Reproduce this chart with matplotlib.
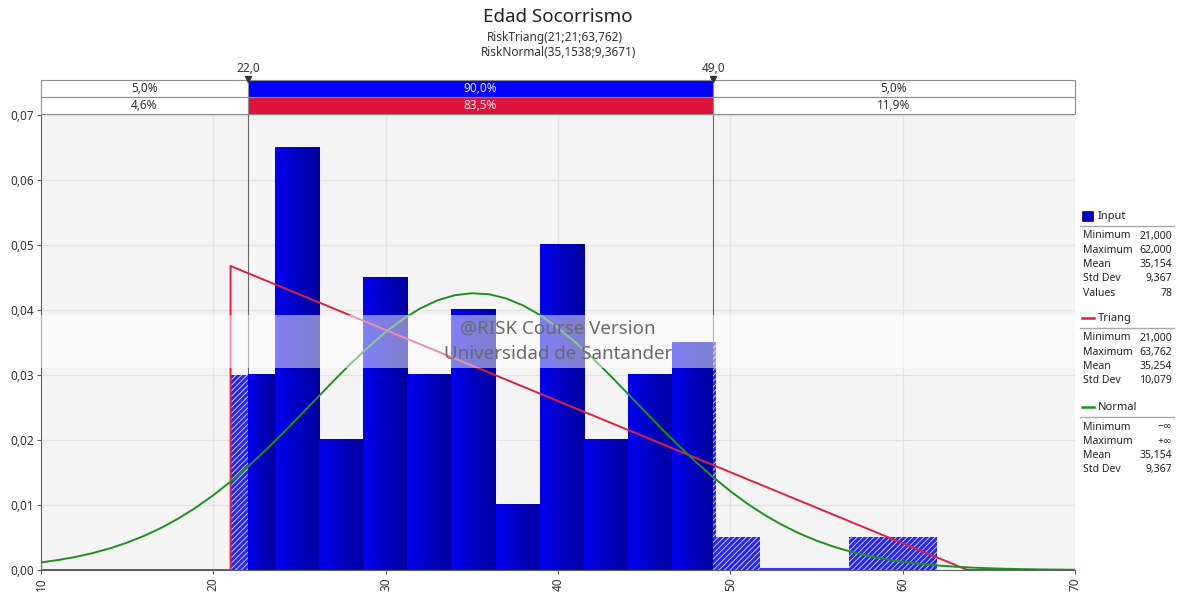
import numpy as np
import matplotlib.pyplot as plt
from matplotlib.colors import LinearSegmentedColormap
from matplotlib.patches import Rectangle
from matplotlib.lines import Line2D

plt.rcParams['font.family'] = ['Noto Sans', 'DejaVu Sans']
plt.rcParams['hatch.linewidth'] = 0.7

# Input histogram: 78 values, 16 bins between 21 and 62
bin_lo = 21.0
bin_hi = 62.0
counts = [6, 13, 4, 9, 6, 8, 2, 10, 4, 6, 7, 1, 0, 0, 1, 1]
n_values = 78

# Fitted triangular distribution (vertices of the pdf)
tri_x = [10, 21, 21, 63.762, 70]
tri_y = [0, 0, 0.04677, 0, 0]

# Fitted normal distribution
norm_x = list(range(10, 71))
norm_y = [0.00116, 0.00154, 0.00201, 0.00260, 0.00333, 0.00422, 0.00527,
          0.00651, 0.00797, 0.00963, 0.01151, 0.01360, 0.01589, 0.01835,
          0.02096, 0.02367, 0.02642, 0.02916, 0.03182, 0.03432, 0.03661,
          0.03860, 0.04024, 0.04148, 0.04227, 0.04258, 0.04242, 0.04177,
          0.04067, 0.03915, 0.03726, 0.03505, 0.03261, 0.02999, 0.02727,
          0.02451, 0.02179, 0.01914, 0.01663, 0.01429, 0.01213, 0.01018,
          0.00845, 0.00694, 0.00563, 0.00452, 0.00358, 0.00281, 0.00218,
          0.00167, 0.00126, 0.00095, 0.00070, 0.00051, 0.00037, 0.00027,
          0.00019, 0.00013, 0.00009, 0.00006, 0.00004]

# Delimiters and probabilities shown above the plot
left_cut = 22.0
right_cut = 49.0
cut_labels = ["22,0", "49,0"]
row_input = ["5,0%", "90,0%", "5,0%"]
row_triang = ["4,6%", "83,5%", "11,9%"]

# Legend statistics
stats_input = [("Minimum", "21,000"), ("Maximum", "62,000"), ("Mean", "35,154"),
               ("Std Dev", "9,367"), ("Values", "78")]
stats_triang = [("Minimum", "21,000"), ("Maximum", "63,762"), ("Mean", "35,254"),
                ("Std Dev", "10,079")]
stats_normal = [("Minimum", "\u2212\u221e"), ("Maximum", "+\u221e"), ("Mean", "35,154"),
                ("Std Dev", "9,367")]

W, H = 1184, 594


def px(x):
    return x / W


def py(y):
    return 1 - y / H


fig = plt.figure(figsize=(W / 100, H / 100), dpi=100)

# Main plot
ax = fig.add_axes([px(41), py(570), px(1075) - px(41), py(115) - py(570)])
ax.set_facecolor('#f4f4f4')
ax.set_axisbelow(True)
ax.grid(color='#e2e2e2', lw=0.9)

edges = np.linspace(bin_lo, bin_hi, len(counts) + 1)
width = edges[1] - edges[0]
heights = np.array(counts) / (n_values * width)

cmap = LinearSegmentedColormap.from_list('bar', ['#0000f2', '#0000c0', '#0000a0'])
grad = np.linspace(0, 1, 64).reshape(1, -1)

for x0, x1, h in zip(edges[:-1], edges[1:], heights):
    if h == 0:
        continue
    # hatched parts outside the delimiters
    if x0 < left_cut:
        ax.bar(x0, h, width=min(x1, left_cut) - x0, align='edge', facecolor='#2626f0',
               edgecolor='#c8c8ff', hatch='//////', linewidth=0, zorder=2)
    if x1 > right_cut:
        a = max(x0, right_cut)
        ax.bar(a, h, width=x1 - a, align='edge', facecolor='#2626f0',
               edgecolor='#c8c8ff', hatch='//////', linewidth=0, zorder=2)
    a, b = max(x0, left_cut), min(x1, right_cut)
    if b > a:
        ax.imshow(grad, extent=[a, b, 0, h], aspect='auto', cmap=cmap,
                  interpolation='bicubic', zorder=2)

# empty bins drawn as a thin line on the baseline
ax.hlines(0.0002, edges[12], edges[14], color='#3a3aff', lw=1.5, zorder=2)

ax.axvline(left_cut, color='#666666', lw=0.8, zorder=1.5)
ax.axvline(right_cut, color='#666666', lw=0.8, zorder=1.5)

ax.plot(tri_x, tri_y, color='#e0203c', lw=1.4, zorder=3)
ax.plot(norm_x, norm_y, color='#1a931a', lw=1.4, zorder=3)

# watermark
ax.axhspan(0.0311, 0.0392, color='white', alpha=0.5, lw=0, zorder=4)
ax.text(40.0, 0.0371, "@RISK Course Version", ha='center', va='center',
        fontsize=13.5, color='#6a6a6a', zorder=5)
ax.text(40.0, 0.0333, "Universidad de Santander", ha='center', va='center',
        fontsize=13.5, color='#6a6a6a', zorder=5)

ax.set_xlim(10, 70)
ax.set_ylim(0, 0.07)
ax.set_xticks(range(10, 71, 10))
ax.set_xticklabels([str(v) for v in range(10, 71, 10)], rotation=90, fontsize=8.5)
yt = np.arange(0, 0.0701, 0.01)
ax.set_yticks(yt)
ax.set_yticklabels([f"{v:.2f}".replace('.', ',') for v in yt], fontsize=8.5)
ax.tick_params(length=3, color='#606060', labelcolor='#333333', pad=2)
for s in ['top', 'right']:
    ax.spines[s].set_visible(False)
for s in ['left', 'bottom']:
    ax.spines[s].set_color('#606060')

# Probability bars above the plot
tax = fig.add_axes([px(41), py(114), px(1075) - px(41), py(80) - py(114)])
tax.set_xlim(10, 70)
tax.set_ylim(0, 2)
tax.axis('off')
bounds = [10, left_cut, right_cut, 70]
for row, labels, mid_color in [(1, row_input, '#0000ff'), (0, row_triang, '#dc143c')]:
    for i in range(3):
        fc = mid_color if i == 1 else 'white'
        tax.add_patch(Rectangle((bounds[i], row), bounds[i + 1] - bounds[i], 1,
                                facecolor=fc, edgecolor='#8c8c8c', lw=0.8, clip_on=False))
        tax.text((bounds[i] + bounds[i + 1]) / 2, row + 0.5, labels[i], ha='center',
                 va='center', fontsize=8.5, color='#f0f0f0' if i == 1 else '#333333')
for xc, lab in zip([left_cut, right_cut], cut_labels):
    tax.plot([xc], [2.08], marker='v', color='#333333', ms=5, clip_on=False)
    tax.text(xc, 2.3, lab, ha='center', va='bottom', fontsize=8.5, color='#333333')

# Titles
fig.text(px(558), py(17), "Edad Socorrismo", ha='center', va='center', fontsize=13.5, color='#222222')
fig.text(px(555), py(37), "RiskTriang(21;21;63,762)", ha='center', va='center', fontsize=8.5, color='#333333')
fig.text(px(558), py(53), "RiskNormal(35,1538;9,3671)", ha='center', va='center', fontsize=8.5, color='#333333')


# Legend panel
def legend_block(y_head, name, stats, kind, color):
    if kind == 'box':
        fig.patches.append(Rectangle((px(1082), py(221)), px(11), 10 / H, facecolor=color,
                                     edgecolor='#000060', lw=0.5, transform=fig.transFigure))
    else:
        fig.lines.append(Line2D([px(1082), px(1094)], [py(y_head)] * 2, color=color,
                                lw=1.8, transform=fig.transFigure))
    fig.text(px(1098), py(y_head), name, ha='left', va='center', fontsize=8, color='#222222')
    fig.lines.append(Line2D([px(1080), px(1174)], [py(y_head + 10)] * 2, color='#a8a8a8',
                            lw=1.0, transform=fig.transFigure))
    for k, (lab, val) in enumerate(stats):
        yy = py(y_head + 20 + 14.3 * k)
        fig.text(px(1083), yy, lab, ha='left', va='center', fontsize=7.5, color='#222222')
        fig.text(px(1172), yy, val, ha='right', va='center', fontsize=7.5, color='#222222')


legend_block(216, "Input", stats_input, 'box', '#0000c0')
legend_block(318, "Triang", stats_triang, 'line', '#e0203c')
legend_block(407, "Normal", stats_normal, 'line', '#1a931a')

fig.savefig('out.png', dpi=100)
